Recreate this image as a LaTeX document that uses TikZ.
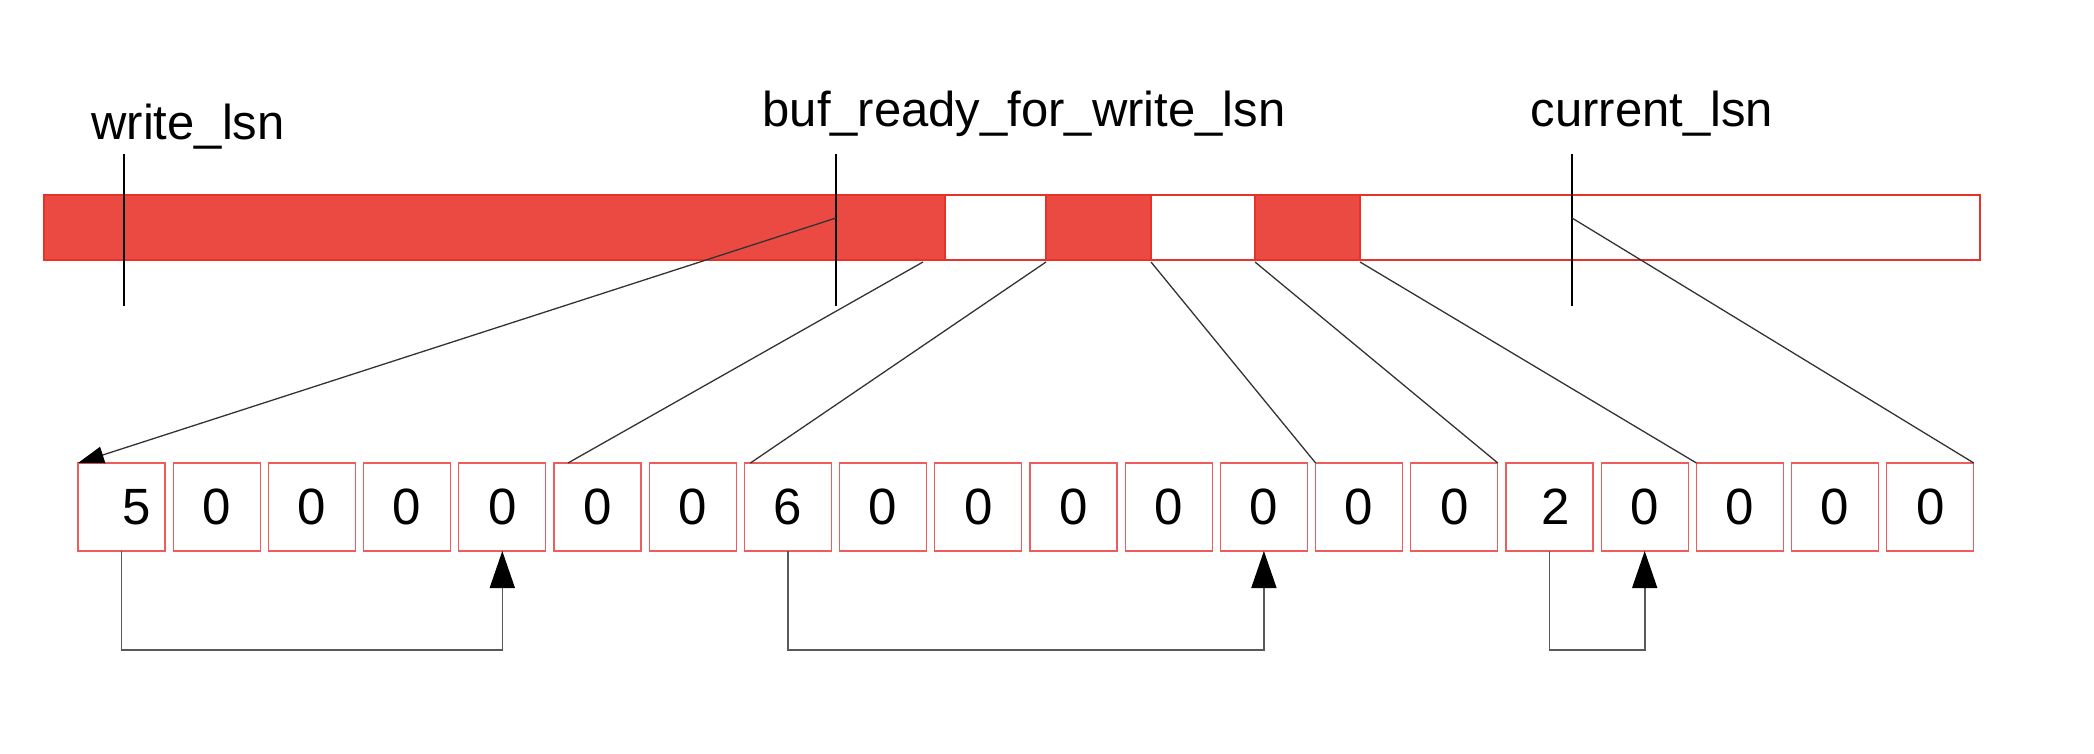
\documentclass[tikz,border=0pt]{standalone}
\usepackage{fontspec}
\setmainfont{Liberation Sans}
\usetikzlibrary{arrows.meta, positioning}
\definecolor{barfill}{RGB}{234,74,66}
\definecolor{barline}{RGB}{232,50,40}
\definecolor{cellline}{RGB}{238,92,92}

\begin{document}
\begin{tikzpicture}[
    x=0.5pt, y=-0.5pt,
    seg/.style={draw=barline, line width=0.8pt, inner sep=0pt, outer sep=0pt, minimum height=32.5pt},
    segfull/.style={seg, fill=barfill},
    segfree/.style={seg, fill=white},
    cell/.style={draw=cellline, line width=0.6pt, inner sep=0pt, outer sep=0pt, minimum width=43.5pt, minimum height=44pt, font=\fontsize{25.5pt}{30pt}\selectfont},
    lsn/.style={anchor=base, inner sep=0pt, font=\fontsize{24.5pt}{29pt}\selectfont},
    marker/.style={line width=0.65pt},
    link/.style={draw=black!80, line width=0.65pt},
    jump/.style={draw=black!65, line width=0.8pt, -{Triangle[length=18.5pt, width=12.5pt, fill=black, color=black]}}
]
\useasboundingbox (0,0) rectangle (2094,754);

\node[segfull, minimum width=450.5pt, anchor=west] (s1) at (44,227.5) {};
\node[segfree, minimum width=50.5pt, right=0pt of s1] (s2) {};
\node[segfull, minimum width=52.5pt, right=0pt of s2] (s3) {};
\node[segfree, minimum width=52pt, right=0pt of s3] (s4) {};
\node[segfull, minimum width=52.5pt, right=0pt of s4] (s5) {};
\node[segfree, minimum width=310pt, right=0pt of s5] (s6) {};

\node[lsn] (wlsn) at (188,140) {write\_lsn};
\node[lsn] (blsn) at (1024,127) {buf\_ready\_for\_write\_lsn};
\node[lsn] (clsn) at (1652,127) {current\_lsn};

\coordinate (wtop) at (124,154);
\coordinate (wbot) at (124,306);
\coordinate (btop) at (836,154);
\coordinate (bbot) at (836,306);
\coordinate (ctop) at (1572,154);
\coordinate (cbot) at (1572,306);
\coordinate (bmid) at (836,218);
\coordinate (cmid) at (1572,218);
\coordinate (low) at (0,650);

\draw[marker] (wtop) -- (wbot);
\draw[marker] (btop) -- (bbot);
\draw[marker] (ctop) -- (cbot);

\foreach \d/\dx [count=\i] in {5/15, 0/0, 0/0, 0/0, 0/0, 0/0, 0/0, 6/0, 0/0, 0/0,
                               0/0, 0/0, 0/0, 0/0, 0/0, 2/6, 0/0, 0/0, 0/0, 0/0}
  \node[cell] (c\i) at ({121.5+(\i-1)*95.2},507) {\hspace*{\dx pt}\d};

\draw[link, -{Triangle[length=13pt, width=8.5pt, fill=black, color=black]}] (bmid) -- (c1.north west);
\draw[link] ([xshift=-11pt, yshift=-1pt]s1.south east) -- ([xshift=7pt]c6.north west);
\draw[link] ([yshift=-1pt]s3.south west) -- ([xshift=3pt]c8.north west);
\draw[link] ([yshift=-1pt]s4.south west) -- (c14.north west);
\draw[link] ([yshift=-1pt]s5.south west) -- (c15.north east);
\draw[link] ([yshift=-1pt]s6.south west) -- (c18.north west);
\draw[link] (cmid) -- (c20.north east);

\draw[jump] (c1.south) -- (c1.south |- low) -| (c5.south);
\draw[jump] (c8.south) -- (c8.south |- low) -| (c13.south);
\draw[jump] (c16.south) -- (c16.south |- low) -| (c17.south);
\end{tikzpicture}
\end{document}
